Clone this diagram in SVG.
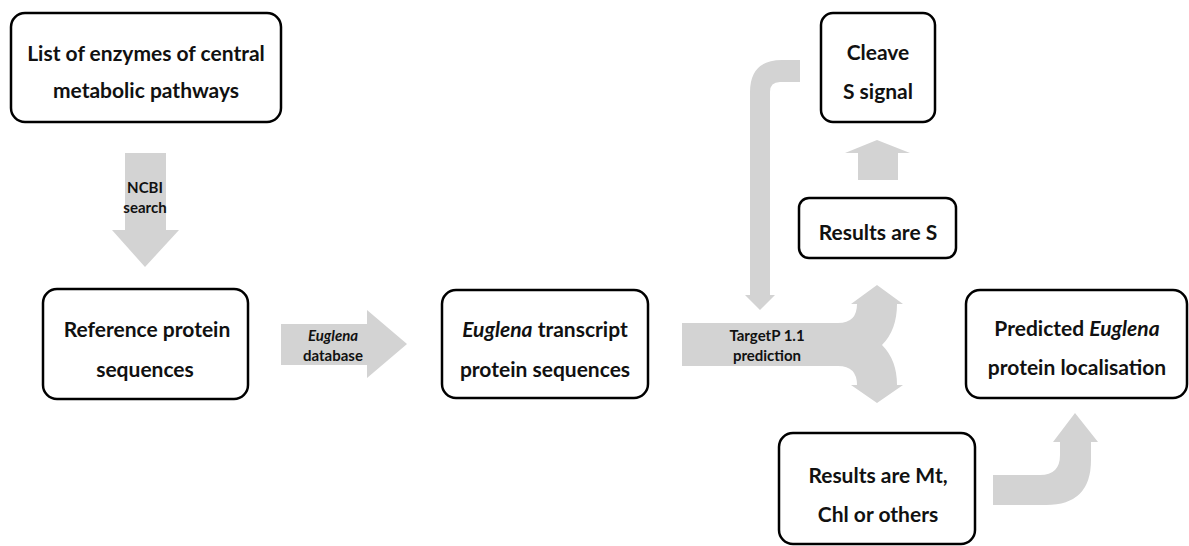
<svg xmlns="http://www.w3.org/2000/svg" width="1189" height="546" viewBox="0 0 1189 546">
<style>
.box{fill:#fff;stroke:#000;stroke-width:2.5}
.t{font-family:Lato,"Liberation Sans",sans-serif;font-weight:bold;font-size:21px;fill:#111;text-anchor:middle}
.s{font-family:Lato,"Liberation Sans",sans-serif;font-weight:bold;font-size:15px;fill:#111;text-anchor:middle}
.i{font-style:italic}
.arr{fill:#d3d3d3}
</style>
<rect width="1189" height="546" fill="#fff"/>
<g id="connectors">
<path class="arr" d="M125,153 L166,153 L166,230 L179,230 L145,267 L112,230 L125,230 Z"/>
<text class="s" x="145" y="193">NCBI</text>
<text class="s" x="145" y="213">search</text>
<path class="arr" d="M281,324 L367,324 L367,310 L407,344 L367,378 L367,365 L281,365 Z"/>
<text class="s" x="333" y="341"><tspan class="i">Euglena</tspan></text>
<text class="s" x="333" y="361">database</text>
<path class="arr" d="M682,323 L838,323 Q857,323 857,304 L851,304 L877,285 L903,304 L897,304 Q897,330 882,345 Q897,360 897,385 L903,385 L877,403 L851,385 L857,385 Q857,366 838,366 L682,366 Z"/>
<text class="s" x="767" y="341">TargetP 1.1</text>
<text class="s" x="767" y="361">prediction</text>
<path class="arr" d="M800,60 L782,60 Q750,60 750,92 L750,295 L745,295 L760,310 L775,295 L770,295 L770,92 Q770,82 780,82 L800,82 Z"/>
<path class="arr" d="M858,180 L858,153 L845,153 L877,140 L910,153 L898,153 L898,180 Z"/>
<path class="arr" d="M993,475 L1040,475 Q1060,475 1060,455 L1060,442 L1053,442 L1075,413 L1098,442 L1091,442 L1091,460 Q1091,505 1046,505 L993,505 Z"/>
</g>
<g id="n-enzymes">
<rect class="box" x="11" y="13" width="270" height="109" rx="14"/>
<text class="t" x="146" y="61">List of enzymes of central</text>
<text class="t" x="146" y="98">metabolic pathways</text>
</g>
<g id="n-reference">
<rect class="box" x="43" y="289" width="205" height="110" rx="14"/>
<text class="t" x="147" y="337">Reference protein</text>
<text class="t" x="145" y="377">sequences</text>
</g>
<g id="n-transcript">
<rect class="box" x="442" y="290" width="206" height="108" rx="14"/>
<text class="t" x="545" y="337"><tspan class="i">Euglena</tspan> transcript</text>
<text class="t" x="545" y="377">protein sequences</text>
</g>
<g id="n-cleave">
<rect class="box" x="821" y="13" width="114" height="109" rx="12"/>
<text class="t" x="878" y="60">Cleave</text>
<text class="t" x="878" y="99">S signal</text>
</g>
<g id="n-results-s">
<rect class="box" x="799" y="198" width="157" height="60" rx="10"/>
<text class="t" x="878" y="240">Results are S</text>
</g>
<g id="n-predicted">
<rect class="box" x="966" y="290" width="221" height="108" rx="14"/>
<text class="t" x="1077" y="336">Predicted <tspan class="i">Euglena</tspan></text>
<text class="t" x="1077" y="375">protein localisation</text>
</g>
<g id="n-results-mt">
<rect class="box" x="779" y="433" width="196" height="111" rx="14"/>
<text class="t" x="878" y="483">Results are Mt,</text>
<text class="t" x="878" y="522">Chl or others</text>
</g>
</svg>
